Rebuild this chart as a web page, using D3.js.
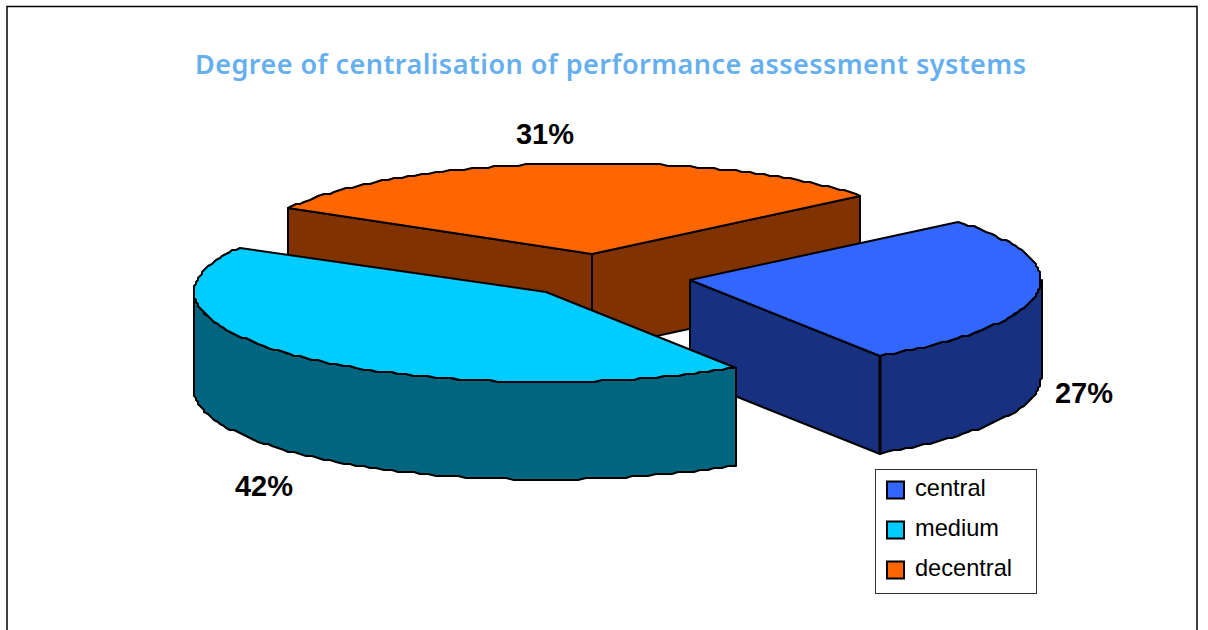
<!DOCTYPE html>
<html><head><meta charset="utf-8">
<script src="https://cdn.jsdelivr.net/npm/d3@7"></script>
<style>html,body{margin:0;padding:0;background:#fff;overflow:hidden}svg{display:block}</style>
</head><body><svg id="c" width="1208" height="630"></svg>
<script>
const categories = ["central", "medium", "decentral"];
const values = [27, 42.4, 30.6];
const topColors = ["#3366FF", "#00CCFF", "#FF6600"];
const sideColors = ["#17307F", "#006680", "#803300"];
const titleText = "Degree of centralisation of performance assessment systems";

const W = 1208, H = 630, RX = 351, RY = 90, DEPTH = 97.5;
const svg = d3.select("#c");
const toRad = d => d * Math.PI / 180;

// frame
svg.append("path").attr("d", `M7,${H}V6.5H1197V${H}`).attr("fill", "none").attr("stroke", "#000").attr("stroke-width", 1.5);

svg.append("text").attr("x", 195).attr("y", 74).attr("textLength", 831).attr("lengthAdjust", "spacing")
  .attr("font-family", "'Noto Sans'").attr("font-weight", "600").attr("font-size", 27).attr("fill", "#66AFEE").text(titleText);

const pie = d3.pie().sort(null).startAngle(toRad(50)).endAngle(toRad(410));
const arcs = pie(values);

// apex of each exploded slice
const apex = {central: [690, 280], medium: [545, 292], decentral: [592, 253]};

function project(cat) {
  const [cx, cy] = apex[cat];
  const sx = d3.scaleLinear().domain([-1, 1]).range([cx - RX, cx + RX]);
  const sy = d3.scaleLinear().domain([-1, 1]).range([cy - RY, cy + RY]);
  return (a, dz = 0) => [sx(Math.sin(a)), sy(-Math.cos(a)) + dz];
}
const snap = v => Math.round(v / 2) * 2;
const line = d3.line().x(d => snap(d[0])).y(d => snap(d[1]));
const sweep = (a0, a1) => {
  const n = Math.max(2, Math.round(Math.abs(a1 - a0) / toRad(1.3)));
  return d3.range(n + 1).map(i => a0 + (a1 - a0) * i / n);
};
const shape = (fill, pts, sw = 2) => svg.append("path").attr("d", line(pts) + "Z")
  .attr("fill", fill).attr("stroke", "#000").attr("stroke-width", sw).attr("stroke-linejoin", "round");

function drawCutWall(cat, side, a) {
  const p = project(cat), ap = apex[cat], e = p(a);
  shape(side, [ap, e, [e[0], e[1] + DEPTH], [ap[0], ap[1] + DEPTH]]);
}
function drawOuterWall(cat, side, a0, a1) {
  const p = project(cat);
  const top = sweep(a0, a1).map(a => p(a));
  const bot = sweep(a1, a0).map(a => p(a, DEPTH));
  shape(side, top.concat(bot));
}
function drawTop(cat, fill, a0, a1) {
  const p = project(cat);
  shape(fill, [apex[cat]].concat(sweep(a0, a1).map(a => p(a))));
}

const idx = c => categories.indexOf(c);
// back: decentral
{
  const d = arcs[idx("decentral")], c = "decentral", s = sideColors[idx(c)];
  drawCutWall(c, s, d.startAngle);
  drawCutWall(c, s, d.endAngle);
  drawTop(c, topColors[idx(c)], d.startAngle, d.endAngle);
}
// central
{
  const d = arcs[idx("central")], c = "central", s = sideColors[idx(c)];
  drawCutWall(c, s, d.endAngle);
  drawOuterWall(c, s, Math.PI / 2, d.endAngle);
  drawTop(c, topColors[idx(c)], d.startAngle, d.endAngle);
  const e = project(c)(d.endAngle);
  svg.append("path").attr("d", `M${snap(e[0])},${snap(e[1])}v${DEPTH}`).attr("stroke", "#000").attr("stroke-width", 3);
}
// medium
{
  const d = arcs[idx("medium")], c = "medium", s = sideColors[idx(c)];
  drawOuterWall(c, s, d.startAngle, 3 * Math.PI / 2);
  drawTop(c, topColors[idx(c)], d.startAngle, d.endAngle);
}

// percentage labels
const fmt = d3.format(".0f");
const labelAnchors = {central: [1084, 403], medium: [264, 496], decentral: [545, 144]};
svg.selectAll("text.pct").data(arcs).join("text").attr("class", "pct")
  .attr("x", (d, i) => labelAnchors[categories[i]][0]).attr("y", (d, i) => labelAnchors[categories[i]][1])
  .attr("text-anchor", "middle").attr("font-family", "'Liberation Sans'").attr("font-weight", "bold")
  .attr("font-size", 29).attr("fill", "#000").text(d => fmt(d.data) + "%");

// legend
svg.append("rect").attr("x", 875.5).attr("y", 469.5).attr("width", 161).attr("height", 124)
  .attr("fill", "#fff").attr("stroke", "#333").attr("stroke-width", 1);
const ly = d3.scalePoint().domain(categories).range([490, 570]);
const lg = svg.selectAll("g.lg").data(categories).join("g").attr("class", "lg")
  .attr("transform", d => `translate(0,${ly(d)})`);
lg.append("rect").attr("x", 887).attr("y", -8.5).attr("width", 17).attr("height", 17)
  .attr("fill", (d, i) => topColors[i]).attr("stroke", "#000").attr("stroke-width", 2);
lg.append("text").attr("x", 915).attr("y", 5.5).attr("font-family", "'Liberation Sans'")
  .attr("font-size", 23.6).attr("fill", "#000").text(d => d);
</script></body></html>
